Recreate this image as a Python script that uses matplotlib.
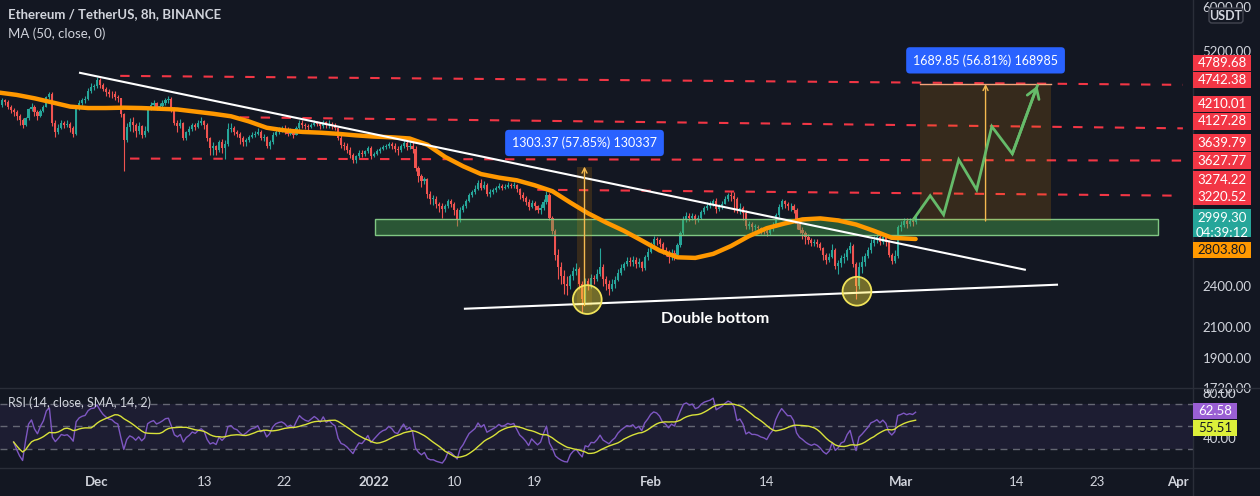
import numpy as np
import pandas as pd
import matplotlib
matplotlib.use("Agg")
import matplotlib.pyplot as plt
from matplotlib.patches import Rectangle, FancyBboxPatch
from matplotlib.ticker import FixedLocator, FixedFormatter, NullLocator

plt.rcParams['font.family'] = ['Lato', 'DejaVu Sans']

BG = '#131722'
UP = '#26a69a'
DOWN = '#ef5350'
TXT = '#d1d4dc'
LINEC = '#2a2e39'
RED = '#f23645'

# ---------------- data: ETH/USDT 8h candles, 20 Nov 2021 00:00 -> 2 Mar 2022 16:00
# x unit = days since 1 Dec 2021
first_open = 4300.0
closes = [
    4350, 4420, 4400, 4330, 4280, 4250, 4200, 4140, 4080, 4170, 4290, 4330,
    4250, 4200, 4270, 4330, 4470, 4520, 4100, 3990, 4040, 4100, 4080, 4090,
    4040, 3960, 4290, 4380, 4420, 4440, 4560, 4620, 4630,
    4720, 4650, 4590, 4550, 4520, 4510, 4470, 4450, 4220, 3880, 4050, 4120,
    4080, 4000, 4060, 3950, 4000, 4300, 4350, 4380, 4310, 4340, 4380, 4430,
    4440, 4300, 4110, 4060, 4100, 3900, 3980, 4020, 4080, 4050, 4100, 4130,
    4080, 3900, 3780, 3800, 3750, 3860, 3780, 3830, 4020, 4040, 3980, 3960,
    3900, 3850, 3880, 3920, 3950, 3960, 3990, 3900, 3920, 3810, 3850, 3940,
    3990, 4010, 4020, 4000, 3960, 3980, 3950, 4030, 4110, 4080, 4060, 4050,
    4080, 4110, 4090, 4060, 4120, 4070, 4090, 4060, 4040, 3900, 3820, 3800,
    3760, 3700, 3630, 3680, 3720, 3710, 3740, 3780, 3680,
    3710, 3740, 3770, 3790, 3800, 3830, 3810, 3770, 3760, 3800, 3840, 3790,
    3810, 3770, 3540, 3450, 3390, 3410, 3250, 3200, 3200, 3150, 3120, 3090,
    3120, 3180, 3150, 3080, 2990, 3080, 3120, 3180, 3240, 3270, 3300, 3370,
    3320, 3350, 3250, 3270, 3290, 3310, 3340, 3320, 3330, 3350, 3340, 3350,
    3300, 3240, 3210, 3170, 3110, 3160, 3120, 3080, 3100, 3170, 3240, 3000,
    2880, 2660, 2560, 2480, 2420, 2400, 2480, 2520, 2540, 2420, 2300, 2440,
    2410, 2470, 2460, 2500, 2560, 2460, 2420, 2380, 2420, 2450, 2510, 2550,
    2580, 2610, 2600, 2620, 2580, 2600, 2550, 2640, 2690,
    2760, 2800, 2790, 2760, 2700, 2680, 2640, 2680, 2660, 2750, 2860, 2990,
    3020, 3000, 3020, 2980, 3000, 3060, 3100, 3120, 3140, 3180, 3090, 3120,
    3150, 3200, 3240, 3230, 3200, 3080, 3100, 3050, 2930, 2950, 2920, 2920,
    2910, 2890, 2880, 2860, 2900, 2930, 3030, 3110, 3180, 3150, 3120, 3120,
    3080, 2950, 2890, 2860, 2820, 2790, 2770, 2780, 2760, 2720, 2660, 2620,
    2640, 2700, 2570, 2590, 2630, 2640, 2700, 2740, 2580, 2400, 2560, 2600,
    2650, 2700, 2770, 2790, 2820, 2780, 2820, 2780, 2660, 2610, 2650, 2920,
    2940, 2970, 2950, 2970, 2960, 2999.30,
]
highs = [
    4370, 4450, 4440, 4420, 4350, 4310, 4280, 4230, 4170, 4190, 4310, 4380,
    4350, 4280, 4290, 4360, 4490, 4550, 4540, 4140, 4090, 4140, 4130, 4150,
    4120, 4060, 4310, 4420, 4460, 4480, 4600, 4680, 4660,
    4780, 4760, 4680, 4620, 4590, 4560, 4560, 4500, 4460, 4240, 4100, 4170,
    4180, 4100, 4120, 4080, 4060, 4320, 4400, 4420, 4400, 4380, 4420, 4460,
    4490, 4470, 4320, 4150, 4160, 4120, 4000, 4060, 4100, 4110, 4140, 4180,
    4150, 4100, 3920, 3850, 3820, 3880, 3890, 3880, 4100, 4100, 4060, 4010,
    3990, 3930, 3900, 3950, 3980, 4000, 4040, 4010, 3960, 3930, 3880, 3980,
    4030, 4050, 4060, 4070, 4050, 4040, 4000, 4060, 4140, 4150, 4110, 4090,
    4110, 4140, 4130, 4120, 4150, 4130, 4140, 4120, 4100, 4050, 3940, 3850,
    3840, 3790, 3720, 3700, 3760, 3750, 3760, 3810, 3800,
    3730, 3770, 3790, 3820, 3830, 3860, 3850, 3840, 3800, 3830, 3880, 3870,
    3860, 3850, 3800, 3560, 3470, 3440, 3420, 3280, 3240, 3230, 3170, 3160,
    3150, 3200, 3200, 3170, 3100, 3110, 3150, 3200, 3260, 3290, 3350, 3400,
    3410, 3390, 3370, 3300, 3320, 3340, 3370, 3360, 3360, 3380, 3370, 3380,
    3360, 3310, 3270, 3230, 3200, 3190, 3180, 3130, 3150, 3200, 3280, 3260,
    3020, 2900, 2710, 2600, 2530, 2480, 2500, 2560, 2590, 2560, 2440, 2470,
    2470, 2500, 2490, 2540, 2720, 2580, 2480, 2450, 2460, 2480, 2540, 2580,
    2600, 2640, 2640, 2650, 2640, 2630, 2610, 2660, 2720,
    2780, 2830, 2820, 2810, 2780, 2730, 2700, 2710, 2700, 2770, 2880, 3020,
    3060, 3050, 3050, 3040, 3030, 3080, 3120, 3170, 3180, 3200, 3210, 3150,
    3180, 3230, 3260, 3280, 3270, 3220, 3160, 3120, 3080, 2970, 2960, 2950,
    2940, 2920, 2910, 2900, 2920, 2960, 3050, 3140, 3200, 3190, 3170, 3160,
    3150, 3100, 2970, 2920, 2880, 2850, 2810, 2800, 2800, 2780, 2730, 2680,
    2680, 2760, 2720, 2620, 2660, 2680, 2720, 2780, 2760, 2600, 2600, 2650,
    2680, 2730, 2800, 2830, 2860, 2840, 2850, 2830, 2790, 2680, 2700, 2940,
    2970, 3000, 3000, 3000, 3010, 3020,
]
lows = [
    4270, 4330, 4360, 4300, 4240, 4200, 4150, 4080, 4040, 4060, 4150, 4270,
    4200, 4150, 4180, 4250, 4320, 4440, 4060, 3920, 3960, 4020, 4040, 4050,
    3990, 3920, 3940, 4280, 4360, 4380, 4420, 4530, 4580,
    4600, 4600, 4560, 4490, 4470, 4450, 4420, 4400, 4180, 3500, 3850, 4000,
    3980, 3920, 3960, 3900, 3920, 3980, 4280, 4300, 4280, 4280, 4320, 4360,
    4380, 4260, 4080, 3990, 4030, 3880, 3880, 3950, 4000, 4010, 4030, 4070,
    4020, 3870, 3700, 3690, 3700, 3730, 3720, 3640, 3800, 3980, 3940, 3920,
    3830, 3800, 3810, 3860, 3900, 3920, 3940, 3880, 3870, 3780, 3770, 3830,
    3930, 3960, 3980, 3960, 3930, 3940, 3910, 3940, 4010, 4040, 4020, 4010,
    4030, 4060, 4060, 4020, 4040, 4030, 4040, 4020, 4010, 3880, 3780, 3760,
    3720, 3660, 3600, 3600, 3650, 3670, 3680, 3720, 3640,
    3670, 3690, 3720, 3750, 3770, 3780, 3770, 3730, 3700, 3730, 3780, 3760,
    3770, 3720, 3500, 3380, 3330, 3360, 3210, 3150, 3130, 3100, 3060, 3000,
    3060, 3100, 3110, 3030, 2930, 2960, 3060, 3100, 3170, 3220, 3250, 3290,
    3290, 3300, 3230, 3220, 3250, 3270, 3300, 3290, 3300, 3310, 3310, 3320,
    3270, 3200, 3180, 3130, 3080, 3100, 3080, 3050, 3040, 3080, 3150, 2980,
    2850, 2620, 2460, 2420, 2340, 2330, 2380, 2450, 2490, 2380, 2200, 2270,
    2370, 2390, 2420, 2440, 2480, 2400, 2370, 2330, 2360, 2390, 2440, 2490,
    2530, 2570, 2570, 2570, 2550, 2560, 2520, 2530, 2620,
    2680, 2740, 2750, 2730, 2670, 2650, 2590, 2620, 2620, 2640, 2730, 2840,
    2960, 2970, 2980, 2950, 2960, 2990, 3040, 3080, 3100, 3120, 3050, 3070,
    3090, 3140, 3180, 3180, 3060, 3050, 3040, 2980, 2900, 2900, 2880, 2890,
    2860, 2850, 2850, 2830, 2840, 2880, 2920, 3010, 3090, 3100, 3080, 3070,
    3050, 2900, 2860, 2800, 2760, 2760, 2740, 2740, 2730, 2700, 2620, 2580,
    2600, 2630, 2540, 2500, 2560, 2590, 2620, 2680, 2560, 2300, 2380, 2510,
    2570, 2630, 2680, 2740, 2770, 2750, 2760, 2740, 2640, 2580, 2590, 2630,
    2880, 2920, 2910, 2930, 2930, 2950,
]

# MA (50, close)
ma_days = [-11, -9, -7, -5, -3, -1, 1, 3, 5, 7, 9, 11, 13, 15, 17, 19, 21, 23,
           25, 27, 29, 31, 33, 35, 37, 39, 41, 43, 45, 47, 49, 51, 53, 55, 57,
           59, 61, 63, 65, 67, 69, 71, 73, 75, 77, 79, 81, 83, 85, 87, 89, 91.67]
ma_values = [4535, 4500, 4450, 4390, 4330, 4310, 4310, 4315, 4310, 4300, 4290,
             4260, 4230, 4195, 4125, 4040, 4005, 3985, 3975, 3960, 3940, 3925,
             3915, 3900, 3820, 3670, 3560, 3470, 3430, 3400, 3345, 3280, 3160,
             3050, 2960, 2880, 2790, 2700, 2640, 2635, 2670, 2740, 2830, 2905,
             2950, 2990, 3000, 2980, 2940, 2880, 2815, 2803.80]

rsi_last, rsi_ma_last = 62.58, 55.51

# drawings
trend_days, trend_prices = [-1.9, 103.9], [4838, 2535]
support_days, support_prices = [41.2, 107.5], [2230, 2413]
level_start = [2.6, 16.0, 3.7, 49.3]
level_end = 121.6
level_left = [4790, 4181, 3651, 3296]
level_right = [4651, 4032, 3627, 3232]
zone_days, zone_prices = [31.1, 118.8], [2843, 2996]
measure_left = [53.75, 92.2]
measure_right = [55.43, 106.8]
measure_low = [2253.0, 2974.6]
measure_high = [3556.4, 4664.4]
measure_text = ['1303.37 (57.85%) 130337', '1689.85 (56.81%) 168985']
path_days = [91.4, 93.3, 94.8, 96.5, 98.5, 100.2, 102.5, 105.3]
path_prices = [2987, 3232, 3036, 3637, 3296, 4057, 3709, 4637]
bottom_days, bottom_prices = [54.9, 85.1], [2298, 2362]

price_ticks = [1720, 1900, 2100, 2400, 5200, 6000]
date_ticks = [0, 12, 21, 31, 40, 49, 62, 75, 90, 103, 112, 121]
date_labels = ['Dec', '13', '22', '2022', '10', '19', 'Feb', '14', 'Mar', '14', '23', 'Apr']

# axis price tags: value, text, colour, text colour, nudge up in px
tags = [
    (4789.68, '4789.68', RED, 'white', 13),
    (4742.38, '4742.38', RED, 'white', -1),
    (4210.01, '4210.01', RED, 'white', 11),
    (4127.28, '4127.28', RED, 'white', 0),
    (3639.79, '3639.79', RED, 'white', 17),
    (3627.77, '3627.77', RED, 'white', 0),
    (3274.22, '3274.22', RED, 'white', 12),
    (3220.52, '3220.52', RED, 'white', 0),
    (2803.80, '2803.80', '#ff9800', '#131722', -11),
]

# ---------------- figure
W, H = 1260, 496
fig = plt.figure(figsize=(W / 100, H / 100), dpi=100, facecolor=BG)
ax = fig.add_axes([0, 108 / H, 1193 / W, 388 / H])
rax = fig.add_axes([0, 28 / H, 1193 / W, 80 / H], sharex=ax)
for a in (ax, rax):
    a.set_facecolor(BG)
    for s in a.spines.values():
        s.set_visible(False)

ax.set_yscale('log')
ax.set_ylim(1719, 6145)
ax.set_xlim(-10.862, 122.73)

closes = np.array(closes, float)
highs = np.array(highs, float)
lows = np.array(lows, float)
opens = np.r_[first_open, closes[:-1]]
t = -11 + np.arange(len(closes)) / 3
highs = np.maximum(highs, np.maximum(opens, closes))
lows = np.minimum(lows, np.minimum(opens, closes))
cols = np.where(closes >= opens, UP, DOWN)

ax.vlines(t, lows, highs, colors=cols, lw=0.8, zorder=2)
body = np.maximum(np.abs(closes - opens), closes * 0.0015)
ax.bar(t, body, bottom=np.minimum(opens, closes), width=0.24, color=cols,
       linewidth=0, zorder=2)

ax.plot(ma_days, ma_values, color='#ff9800', lw=3.2, solid_capstyle='round',
        solid_joinstyle='round', zorder=4)

# horizontal levels
for s, l, r in zip(level_start, level_left, level_right):
    ax.plot([s, level_end], [l, r], color=RED, lw=1.5, dashes=(4.5, 5.5), zorder=3)

# green zone
ax.add_patch(Rectangle((zone_days[0], zone_prices[0]), zone_days[1] - zone_days[0],
                       zone_prices[1] - zone_prices[0], facecolor='#4caf50', alpha=0.42,
                       edgecolor='none', zorder=3))
ax.add_patch(Rectangle((zone_days[0], zone_prices[0]), zone_days[1] - zone_days[0],
                       zone_prices[1] - zone_prices[0], facecolor='none',
                       edgecolor='#81c784', lw=1, zorder=3))

# trend lines
ax.plot(trend_days, trend_prices, color='white', lw=1.5, zorder=5)
ax.plot(support_days, support_prices, color='white', lw=1.5, zorder=5)

# measurement boxes
for l, r, lo, hi, txt in zip(measure_left, measure_right, measure_low, measure_high, measure_text):
    ax.add_patch(Rectangle((l, lo), r - l, hi - lo, facecolor='#ff9800', alpha=0.15,
                           edgecolor='none', zorder=3))
    xc = (l + r) / 2
    ax.annotate('', xy=(xc, hi), xytext=(xc, lo),
                arrowprops=dict(arrowstyle='->', color='#f5b94f', lw=1,
                                shrinkA=0, shrinkB=0, mutation_scale=9), zorder=6)
    ax.annotate(txt, xy=(xc, hi), xytext=(0, 17), textcoords='offset points',
                ha='center', va='center', color='white', fontsize=9, zorder=8,
                bbox=dict(boxstyle='round,pad=0.55,rounding_size=0.3', fc='#2962ff', ec='none'))
ax.plot([measure_left[1], measure_right[1]], [measure_high[1]] * 2, color='#f5a37a',
        lw=1, zorder=4)

# projection path
ax.plot(path_days, path_prices, color='#66bb6a', lw=2, zorder=6, solid_joinstyle='miter')
ax.annotate('', xy=(path_days[-1], path_prices[-1]), xytext=(path_days[-2], path_prices[-2]),
            arrowprops=dict(arrowstyle='->,head_length=0.7,head_width=0.45', color='#66bb6a',
                            lw=2, shrinkA=0, shrinkB=0), zorder=6)

# double bottom circles
ax.scatter(bottom_days, bottom_prices, s=430, facecolor='#ffeb3b', alpha=0.4,
           edgecolor='none', zorder=6)
ax.scatter(bottom_days, bottom_prices, s=430, facecolor='none', edgecolor='#f0e35a',
           lw=1.3, zorder=6)
ax.text(69.2, 2155, 'Double bottom', color='white', fontsize=11.5, fontweight='bold',
        ha='center', va='center', zorder=7)

# price axis ticks
ax.yaxis.tick_right()
ax.yaxis.set_major_locator(FixedLocator(price_ticks))
ax.yaxis.set_major_formatter(FixedFormatter([f'{v:.2f}' for v in price_ticks]))
ax.yaxis.set_minor_locator(NullLocator())
ax.tick_params(axis='y', length=0, pad=7, labelsize=9.5, colors=TXT)
ax.tick_params(axis='x', length=0, labelbottom=False)

# ---------------- RSI pane
c = pd.Series(np.r_[first_open, closes])
delta = c.diff().iloc[1:]
gain = delta.clip(lower=0)
loss = -delta.clip(upper=0)
avg_g = gain.ewm(alpha=1 / 14, adjust=True, min_periods=6).mean()
avg_l = loss.ewm(alpha=1 / 14, adjust=True, min_periods=6).mean()
rsi = (100 - 100 / (1 + avg_g / avg_l)).values
rsi_ma = pd.Series(rsi).rolling(14, min_periods=1).mean().values

rax.set_ylim(13.1, 84.2)
rax.axhspan(30, 70, color='#7e57c2', alpha=0.1, lw=0)
for lv in (30, 50, 70):
    rax.axhline(lv, color='#787b86', lw=1, dashes=(5, 4), alpha=0.8)
rax.plot(t, rsi, color='#7e57c2', lw=1)
rax.plot(t, rsi_ma, color='#d9e23a', lw=1)
rax.yaxis.tick_right()
rax.set_yticks([40, 80])
rax.set_yticklabels(['40.00', '80.00'])
rax.tick_params(axis='y', length=0, pad=7, labelsize=9.5, colors=TXT)
rax.set_xticks(date_ticks)
rax.set_xticklabels(date_labels)
rax.tick_params(axis='x', length=0, pad=6, labelsize=9.5, colors=TXT)
for lab in rax.get_xticklabels():
    if lab.get_text() in ('Dec', '2022', 'Feb', 'Mar', 'Apr'):
        lab.set_fontweight('bold')
rax.text(0.007, 0.82, 'RSI (14, close, SMA, 14, 2)', transform=rax.transAxes,
         color=TXT, fontsize=9, va='center', ha='left')

# ---------------- overlay: separators, legend and axis tags (pixel space)
ov = fig.add_axes([0, 0, 1, 1])
ov.set_xlim(0, W)
ov.set_ylim(H, 0)
ov.axis('off')
ov.plot([1193, 1193], [0, H], color=LINEC, lw=1)
ov.plot([0, W], [388, 388], color=LINEC, lw=1)
ov.plot([0, W], [468, 468], color=LINEC, lw=1)


def ypix(a, v):
    return H - a.transData.transform((0, v))[1]


def tag(y, text, fc, tc, h=17, w=58):
    ov.add_patch(Rectangle((1193, y - h / 2), w, h, facecolor=fc, edgecolor='none', zorder=5))
    ov.text(1193 + w / 2, y, text, color=tc, fontsize=9.5, ha='center', va='center', zorder=6)


for v, txt, fc, tc, nudge in tags:
    tag(ypix(ax, v) - nudge, txt, fc, tc, h=16.6)

y0 = ypix(ax, 2999.30)
ov.add_patch(Rectangle((1193, y0 - 9), 58, 28, facecolor=UP, edgecolor='none', zorder=5))
ov.text(1222, y0, '2999.30', color='white', fontsize=9.5, ha='center', va='center', zorder=6)
ov.text(1222, y0 + 14.5, '04:39:12', color='white', fontsize=9.5, ha='center', va='center', zorder=6)

tag(ypix(rax, rsi_last) - 1, f'{rsi_last:.2f}', '#9a5fd4', 'white', h=16, w=44)
tag(ypix(rax, rsi_ma_last) + 8, f'{rsi_ma_last:.2f}', '#dcef3a', '#131722', h=16, w=44)

ov.add_patch(FancyBboxPatch((1209, 8), 34, 15, boxstyle='round,pad=0,rounding_size=3',
                            facecolor=BG, edgecolor='#434651', lw=1, zorder=7))
ov.text(1226, 15.5, 'USDT', color=TXT, fontsize=9, fontweight='bold', ha='center',
        va='center', zorder=8)

ov.text(8, 14, 'Ethereum / TetherUS, 8h, BINANCE', color=TXT, fontsize=9.5,
        fontweight='bold', ha='left', va='center')
ov.text(8, 34, 'MA (50, close, 0)', color=TXT, fontsize=9.5, ha='left', va='center')

fig.savefig('out.png', dpi=100, facecolor=BG)
